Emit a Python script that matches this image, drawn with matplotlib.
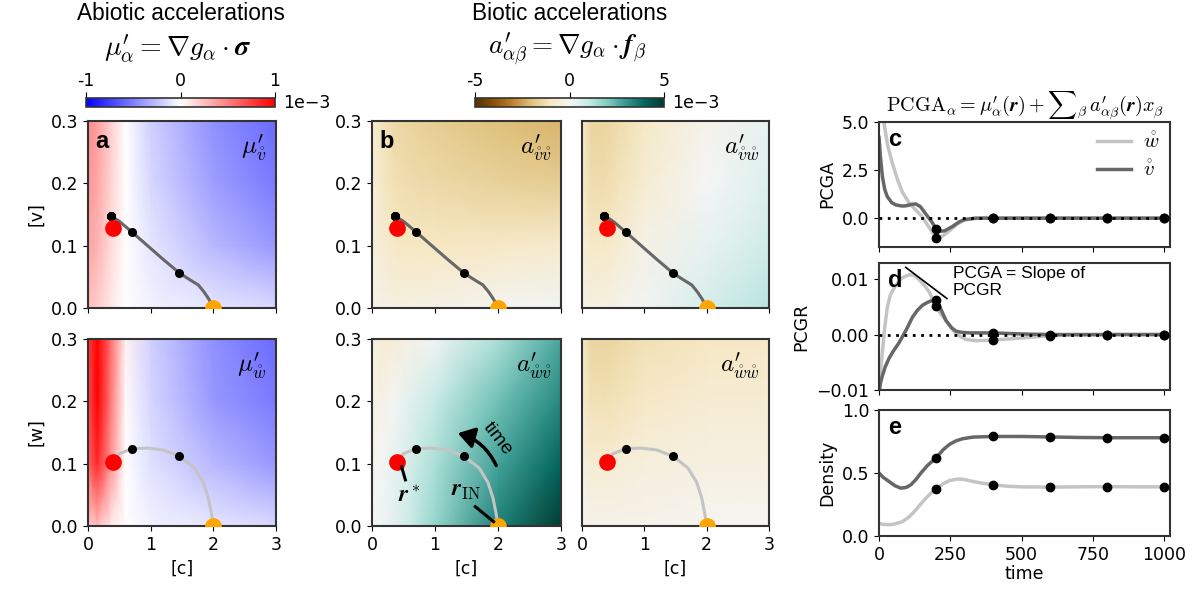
import matplotlib
matplotlib.use("Agg")
import matplotlib.pyplot as plt
import numpy as np
from matplotlib.patches import FancyArrowPatch
from matplotlib.cm import ScalarMappable
from matplotlib.colors import Normalize

plt.rcParams['mathtext.fontset'] = 'cm'
plt.rcParams['font.family'] = ['DejaVu Sans']
plt.rcParams['font.size'] = 12.5
plt.rcParams['axes.linewidth'] = 1.5
plt.rcParams['axes.edgecolor'] = '#333333'

W, H = 1204, 596

# ---- heatmap grids (values in units of 1e-3) ----
grid_c = [0, 0.15, 0.35, 0.6, 1.0, 2.0, 3.0]
grid_y = [0, 0.1, 0.2, 0.3]

mu_v = [[0.25, 0.20, 0.10, 0.00, -0.05, -0.10, -0.15],
        [0.35, 0.30, 0.15, 0.00, -0.10, -0.28, -0.40],
        [0.40, 0.35, 0.18, 0.00, -0.15, -0.38, -0.52],
        [0.45, 0.38, 0.20, 0.00, -0.18, -0.43, -0.58]]

mu_w = [[0.20, 0.25, 0.10, 0.00, -0.05, -0.10, -0.15],
        [0.60, 0.85, 0.45, 0.00, -0.12, -0.28, -0.40],
        [0.70, 1.00, 0.55, 0.02, -0.16, -0.40, -0.52],
        [0.75, 1.00, 0.60, 0.05, -0.18, -0.43, -0.58]]

a_vv = [[-0.2, -0.3, -0.4, -0.4, -0.3, -0.1, 0.1],
        [-0.4, -0.7, -0.9, -1.0, -1.0, -0.9, -0.8],
        [-0.5, -0.9, -1.2, -1.3, -1.4, -1.6, -1.7],
        [-0.6, -1.1, -1.4, -1.5, -1.7, -2.0, -2.2]]

a_vw = [[-0.2, -0.4, -0.4, -0.2, 0.1, 0.7, 1.2],
        [-0.5, -0.9, -0.9, -0.7, -0.3, 0.3, 0.8],
        [-0.7, -1.3, -1.3, -1.1, -0.7, 0.0, 0.5],
        [-0.8, -1.5, -1.5, -1.3, -0.9, -0.2, 0.3]]

a_wv = [[0.0, 0.1, 0.4, 0.9, 1.7, 3.4, 5.0],
        [-0.1, 0.0, 0.3, 0.7, 1.4, 2.8, 4.0],
        [-0.3, -0.3, 0.0, 0.4, 1.0, 2.2, 3.3],
        [-0.3, -0.7, -0.6, -0.3, 0.1, 1.4, 2.7]]

a_ww = [[-0.1, -0.2, -0.2, -0.2, -0.2, -0.1, -0.1],
        [-0.4, -0.7, -0.7, -0.6, -0.5, -0.4, -0.4],
        [-0.7, -1.2, -1.2, -1.1, -0.9, -0.7, -0.7],
        [-0.8, -1.5, -1.5, -1.4, -1.2, -1.0, -0.9]]

# ---- trajectories in phase space ----
traj_v_c = [2.0, 1.93, 1.85, 1.76, 1.63, 1.46, 1.2, 0.95, 0.70, 0.5, 0.36]
traj_v_y = [0.0, 0.014, 0.026, 0.037, 0.045, 0.056, 0.078, 0.100, 0.122, 0.139, 0.148]
dots_v_c = [1.46, 0.70, 0.36, 0.36, 0.36]
dots_v_y = [0.056, 0.122, 0.148, 0.148, 0.148]
rstar_v = (0.40, 0.128)

traj_w_c = [2.0, 1.97, 1.92, 1.84, 1.7, 1.46, 1.2, 0.95, 0.70, 0.5, 0.40]
traj_w_y = [0.0, 0.02, 0.045, 0.07, 0.093, 0.112, 0.122, 0.125, 0.124, 0.116, 0.105]
dots_w_c = [1.46, 0.70, 0.40, 0.40, 0.40]
dots_w_y = [0.112, 0.124, 0.105, 0.105, 0.105]
rstar_w = (0.40, 0.103)
r_in = (2.0, 0.0)

# ---- time series ----
dot_t = [200, 400, 600, 800, 1000]

pcga_w_t = [0, 8, 17, 30, 47, 65, 82, 105, 129, 150, 170, 190, 200, 215, 235, 255, 275, 300, 330, 370, 400, 500, 600, 800, 1000, 1020]
pcga_w = [6.2, 5.6, 5.0, 3.8, 2.85, 2.0, 1.35, 0.8, 0.42, 0.1, -0.35, -0.8, -1.03, -1.0, -0.8, -0.55, -0.3, -0.1, -0.02, 0.0, 0.0, 0.0, 0.0, 0.0, 0.0, 0.0]
pcga_w_dots = [-1.03, 0.0, 0.0, 0.0, 0.0]

pcga_v_t = [0, 5, 12, 20, 29, 45, 59, 80, 94, 115, 129, 145, 158, 175, 188, 200, 215, 230, 258, 280, 300, 340, 400, 1020]
pcga_v = [4.2, 3.2, 2.15, 1.5, 1.12, 0.8, 0.69, 0.63, 0.64, 0.72, 0.74, 0.6, 0.34, 0.0, -0.26, -0.57, -0.68, -0.66, -0.43, -0.2, -0.07, 0.0, 0.0, 0.0]
pcga_v_dots = [-0.57, 0.0, 0.0, 0.0, 0.0]

pcgr_w_t = [0, 5, 12, 20, 29, 40, 59, 80, 106, 125, 141, 160, 176, 190, 200, 215, 235, 255, 270, 290, 305, 340, 400, 480, 550, 600, 700, 800, 1000, 1020]
pcgr_w = [-0.0105, -0.007, -0.0031, 0.0012, 0.0049, 0.0072, 0.0089, 0.0102, 0.0108, 0.0106, 0.0099, 0.0088, 0.0077, 0.0062, 0.0051, 0.0038, 0.0025, 0.0011, 0.0002, -0.0005, -0.0009, -0.0011, -0.001, -0.0007, -0.0004, -0.0002, -0.0001, 0.0, 0.0, 0.0]
pcgr_w_dots = [0.0051, -0.001, -0.0002, 0.0, 0.0]

pcgr_v_t = [0, 5, 12, 22, 35, 50, 70, 95, 117, 135, 153, 170, 185, 200, 215, 235, 255, 270, 290, 317, 360, 400, 500, 600, 1000, 1020]
pcgr_v = [-0.0105, -0.0088, -0.0074, -0.0058, -0.0043, -0.003, -0.0015, 0.0008, 0.0031, 0.0044, 0.0053, 0.0058, 0.0061, 0.0062, 0.0048, 0.0025, 0.0012, 0.0006, 0.0004, 0.0003, 0.0003, 0.0003, 0.0001, 0.0, 0.0, 0.0]
pcgr_v_dots = [0.0062, 0.0003, 0.0, 0.0, 0.0]

dens_v_t = [0, 15, 35, 55, 76, 95, 112, 130, 147, 170, 200, 225, 247, 270, 293, 330, 400, 500, 600, 700, 800, 900, 1000, 1020]
dens_v = [0.50, 0.465, 0.433, 0.40, 0.38, 0.385, 0.407, 0.45, 0.50, 0.56, 0.62, 0.685, 0.727, 0.755, 0.772, 0.785, 0.79, 0.79, 0.786, 0.782, 0.78, 0.78, 0.78, 0.78]
dens_v_dots = [0.62, 0.79, 0.786, 0.78, 0.78]

dens_w_t = [0, 15, 35, 55, 82, 105, 129, 147, 164, 182, 200, 225, 247, 270, 282, 300, 329, 360, 400, 450, 500, 600, 700, 800, 900, 1000, 1020]
dens_w = [0.10, 0.092, 0.09, 0.095, 0.114, 0.15, 0.207, 0.255, 0.30, 0.34, 0.372, 0.415, 0.44, 0.45, 0.452, 0.448, 0.433, 0.42, 0.407, 0.395, 0.39, 0.388, 0.39, 0.392, 0.39, 0.39, 0.39]
dens_w_dots = [0.372, 0.407, 0.388, 0.392, 0.39]

LIGHT = '#c4c4c4'
DARK = '#676767'
SANS = ['Liberation Sans', 'DejaVu Sans']

fig = plt.figure(figsize=(W / 100, H / 100), dpi=100)


def ax_px(x0, y0, x1, y1):
    # place an axes from pixel corners (top-left origin)
    return fig.add_axes([x0 / W, 1 - y1 / H, (x1 - x0) / W, (y1 - y0) / H])


def heatmap(ax, vals, cmap, lim, label):
    C, Y = np.meshgrid(grid_c, grid_y)
    ax.pcolormesh(C, Y, np.array(vals), cmap=cmap, vmin=-lim, vmax=lim,
                  shading='gouraud', rasterized=True)
    ax.set_xlim(0, 3)
    ax.set_ylim(0, 0.3)
    ax.set_xticks([0, 1, 2, 3])
    ax.set_yticks([0, 0.1, 0.2, 0.3])
    ax.text(0.95, 0.94, label, transform=ax.transAxes, ha='right', va='top', fontsize=18)


def trajectory(ax, tc, ty, dc, dy, rstar, colour):
    ax.plot(tc, ty, color=colour, lw=2.2, zorder=3)
    ax.plot(dc, dy, 'o', color='black', ms=5.5, zorder=4)
    ax.plot(*rstar, 'o', color='red', ms=11, zorder=5)
    ax.plot(*r_in, 'o', color='orange', ms=11, zorder=5, clip_on=True)


cols = [(88, 276), (372, 561), (582, 769)]
rows = [(121, 308), (339, 526)]

panels = [
    (0, 0, mu_v, 'bwr', 1, r"$\mu^{\prime}_{\mathring{v}}$"),
    (0, 1, a_vv, 'BrBG', 5, r"$a^{\prime}_{\mathring{v}\mathring{v}}$"),
    (0, 2, a_vw, 'BrBG', 5, r"$a^{\prime}_{\mathring{v}\mathring{w}}$"),
    (1, 0, mu_w, 'bwr', 1, r"$\mu^{\prime}_{\mathring{w}}$"),
    (1, 1, a_wv, 'BrBG', 5, r"$a^{\prime}_{\mathring{w}\mathring{v}}$"),
    (1, 2, a_ww, 'BrBG', 5, r"$a^{\prime}_{\mathring{w}\mathring{w}}$"),
]

axes = {}
for r, c, vals, cmap, lim, label in panels:
    ax = ax_px(cols[c][0], rows[r][0], cols[c][1], rows[r][1])
    heatmap(ax, vals, cmap, lim, label)
    if r == 0:
        trajectory(ax, traj_v_c, traj_v_y, dots_v_c, dots_v_y, rstar_v, DARK)
        ax.set_xticklabels([])
    else:
        trajectory(ax, traj_w_c, traj_w_y, dots_w_c, dots_w_y, rstar_w, LIGHT)
        ax.set_xlabel('[c]')
    if c == 2:
        ax.set_yticklabels([])
        ax.tick_params(axis='y', length=0)
    if c == 0:
        ax.set_ylabel('[v]' if r == 0 else '[w]')
    axes[(r, c)] = ax

axes[(0, 0)].text(0.04, 0.95, 'a', transform=axes[(0, 0)].transAxes, fontsize=17,
                  fontweight='bold', va='top', family=SANS)
axes[(0, 1)].text(0.04, 0.95, 'b', transform=axes[(0, 1)].transAxes, fontsize=17,
                  fontweight='bold', va='top', family=SANS)

# annotations on the a'_wv panel
ab = axes[(1, 1)]
ab.add_patch(FancyArrowPatch((1.99, 0.093), (1.32, 0.150), connectionstyle='arc3,rad=0.25',
                             arrowstyle='-|>,head_width=0.45,head_length=0.7', mutation_scale=14,
                             lw=2.5, color='black', zorder=6))
ab.text(2.0, 0.14, 'time', rotation=-52, ha='center', va='center', fontsize=14, family=SANS)
ab.plot([0.47, 0.53], [0.095, 0.074], color='black', lw=2.2, zorder=6)
ab.text(0.6, 0.05, r'$\boldsymbol{r}^*$', fontsize=17, ha='center', va='center')
ab.plot([1.64, 1.93], [0.031, 0.007], color='black', lw=2.2, zorder=6)
ab.text(1.5, 0.058, r'$\boldsymbol{r}_{\mathrm{IN}}$', fontsize=17, ha='center', va='center')

# ---- colorbars ----
for (x0, x1), cmap, lim in [((86, 275), 'bwr', 1), ((475, 664), 'BrBG', 5)]:
    cax = ax_px(x0, 98, x1, 107)
    cb = fig.colorbar(ScalarMappable(norm=Normalize(-lim, lim), cmap=cmap), cax=cax,
                      orientation='horizontal')
    cb.set_ticks([-lim, 0, lim])
    cb.set_ticklabels(['-%d' % lim, '0', '%d' % lim])
    cax.xaxis.set_ticks_position('top')
    cax.tick_params(length=4, pad=2)
    cb.outline.set_linewidth(1.2)
    fig.text((x1 + 8) / W, 1 - 103 / H, '1e\u22123', fontsize=12.5, va='center')

fig.text(181 / W, 1 - 14 / H, 'Abiotic accelerations', fontsize=16.3, ha='center', va='center', family=SANS)
fig.text(178 / W, 1 - 49 / H, r"$\mu^{\prime}_{\alpha} = \nabla g_\alpha \cdot \boldsymbol{\sigma}$",
         fontsize=20, ha='center', va='center')
fig.text(570 / W, 1 - 14 / H, 'Biotic accelerations', fontsize=16.3, ha='center', va='center', family=SANS)
fig.text(568 / W, 1 - 49 / H, r"$a^{\prime}_{\alpha\beta} = \nabla g_\alpha \cdot \boldsymbol{f}_\beta$",
         fontsize=19.5, ha='center', va='center')

# ---- time series panels ----
ax_c = ax_px(879, 122, 1170, 247)
ax_d = ax_px(879, 263, 1170, 390)
ax_e = ax_px(879, 410, 1170, 536)

ax_c.plot(pcga_w_t, pcga_w, color=LIGHT, lw=2.5, label=r'$\mathring{w}$')
ax_c.plot(pcga_v_t, pcga_v, color=DARK, lw=2.5, label=r'$\mathring{v}$')
ax_c.plot(dot_t, pcga_w_dots, 'o', color='black', ms=6, zorder=5)
ax_c.plot(dot_t, pcga_v_dots, 'o', color='black', ms=6, zorder=5)
ax_c.axhline(0, color='black', lw=2, ls=(0, (1, 2)), zorder=4)
ax_c.set_ylim(-1.5, 5.0)
ax_c.set_yticks([0, 2.5, 5.0])
ax_c.set_ylabel('PCGA')
ax_c.legend(loc='upper right', frameon=False, fontsize=15, handlelength=1.6, handletextpad=0.6,
            borderaxespad=0.1, labelspacing=0.35)
ax_c.set_title(r"$\mathrm{PCGA}_\alpha = \mu^{\prime}_{\alpha}(\boldsymbol{r}) + {\sum}_\beta\, a^{\prime}_{\alpha\beta}(\boldsymbol{r})x_\beta$",
               fontsize=14.5, pad=6)

ax_d.plot(pcgr_w_t, pcgr_w, color=LIGHT, lw=2.5)
ax_d.plot(pcgr_v_t, pcgr_v, color=DARK, lw=2.5)
ax_d.plot(dot_t, pcgr_w_dots, 'o', color='black', ms=6, zorder=5)
ax_d.plot(dot_t, pcgr_v_dots, 'o', color='black', ms=6, zorder=5)
ax_d.axhline(0, color='black', lw=2, ls=(0, (1, 2)), zorder=4)
ax_d.set_ylim(-0.01, 0.0129)
ax_d.set_yticks([-0.01, 0.0, 0.01])
ax_d.set_yticklabels(['\u22120.01', '0.00', '0.01'])
ax_d.set_ylabel('PCGR')
ax_d.plot([94, 238], [0.0121, 0.0065], color='black', lw=1.2)
ax_d.text(258, 0.0123, 'PCGA = Slope of\nPCGR', fontsize=12.5, va='top', family=SANS, linespacing=1.15)

ax_e.plot(dens_w_t, dens_w, color=LIGHT, lw=2.5)
ax_e.plot(dens_v_t, dens_v, color=DARK, lw=2.5)
ax_e.plot(dot_t, dens_w_dots, 'o', color='black', ms=6, zorder=5)
ax_e.plot(dot_t, dens_v_dots, 'o', color='black', ms=6, zorder=5)
ax_e.set_ylim(0, 1.0)
ax_e.set_yticks([0, 0.5, 1.0])
ax_e.set_ylabel('Density')
ax_e.set_xlabel('time', labelpad=1)

for ax, letter in [(ax_c, 'c'), (ax_d, 'd'), (ax_e, 'e')]:
    ax.set_xlim(0, 1020)
    ax.set_xticks([0, 250, 500, 750, 1000])
    if ax is not ax_e:
        ax.set_xticklabels([])
    ax.text(0.03, 0.95, letter, transform=ax.transAxes, fontsize=17, fontweight='bold',
            va='top', family=SANS)

fig.savefig('out.png', dpi=100)
